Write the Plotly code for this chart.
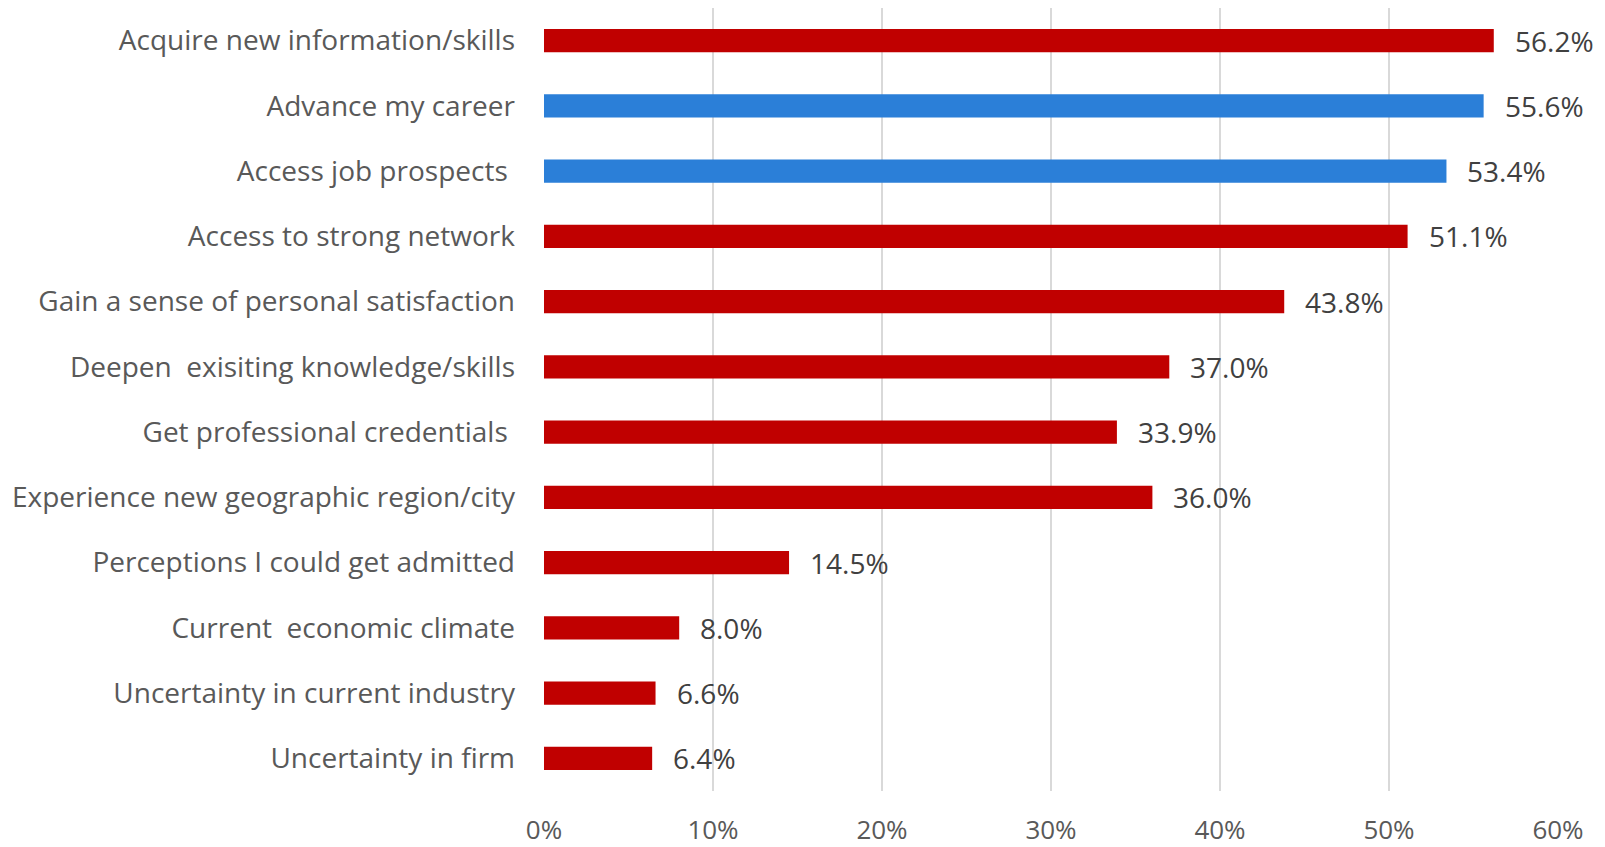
import plotly.graph_objects as go

categories = [
    "Acquire new information/skills",
    "Advance my career",
    "Access job prospects ",
    "Access to strong network",
    "Gain a sense of personal satisfaction",
    "Deepen  exisiting knowledge/skills",
    "Get professional credentials ",
    "Experience new geographic region/city",
    "Perceptions I could get admitted",
    "Current  economic climate",
    "Uncertainty in current industry",
    "Uncertainty in firm",
]
values = [56.2, 55.6, 53.4, 51.1, 43.8, 37.0, 33.9, 36.0, 14.5, 8.0, 6.6, 6.4]
highlight = [False, True, True, False, False, False, False, False, False, False, False, False]
tick_vals = [0, 10, 20, 30, 40, 50, 60]
tick_text = ["0%", "10%", "20%", "30%", "40%", "50%", "60%"]

RED = "#C00000"
BLUE = "#2B7FD8"
TXT = "#595959"
FONT = "Open Sans, Lato, sans-serif"

colors = [BLUE if h else RED for h in highlight]

fig = go.Figure(go.Bar(
    y=categories,
    x=values,
    orientation="h",
    marker=dict(color=colors, line=dict(width=0)),
    width=0.36,
    hoverinfo="skip",
))

for cat, v in zip(categories, values):
    fig.add_annotation(
        x=v, y=cat, xref="x", yref="y",
        text=f"{v:.1f}%", showarrow=False,
        xanchor="left", yanchor="middle", xshift=19,
        font=dict(family=FONT, size=28, color="#404040"),
    )

fig.update_layout(
    width=1605, height=847,
    margin=dict(l=544, r=47, t=8, b=56, autoexpand=False),
    paper_bgcolor="white", plot_bgcolor="white",
    showlegend=False,
    font=dict(family=FONT, size=26, color=TXT),
)
fig.update_xaxes(
    range=[0, 60],
    tickvals=tick_vals, ticktext=tick_text,
    showgrid=True, gridcolor="#D9D9D9", gridwidth=2,
    zeroline=False, showline=False,
    tickfont=dict(family=FONT, size=26, color=TXT),
    ticks="", ticklabelstandoff=21,
    automargin=False,
)
fig.update_yaxes(
    autorange="reversed",
    showgrid=False, zeroline=False, showline=False,
    tickfont=dict(family=FONT, size=28, color=TXT),
    ticks="", ticklabelstandoff=28,
    automargin=False,
)

fig.write_html("out.html", config={"displayModeBar": False},
               post_script="document.body.style.margin='0';")
